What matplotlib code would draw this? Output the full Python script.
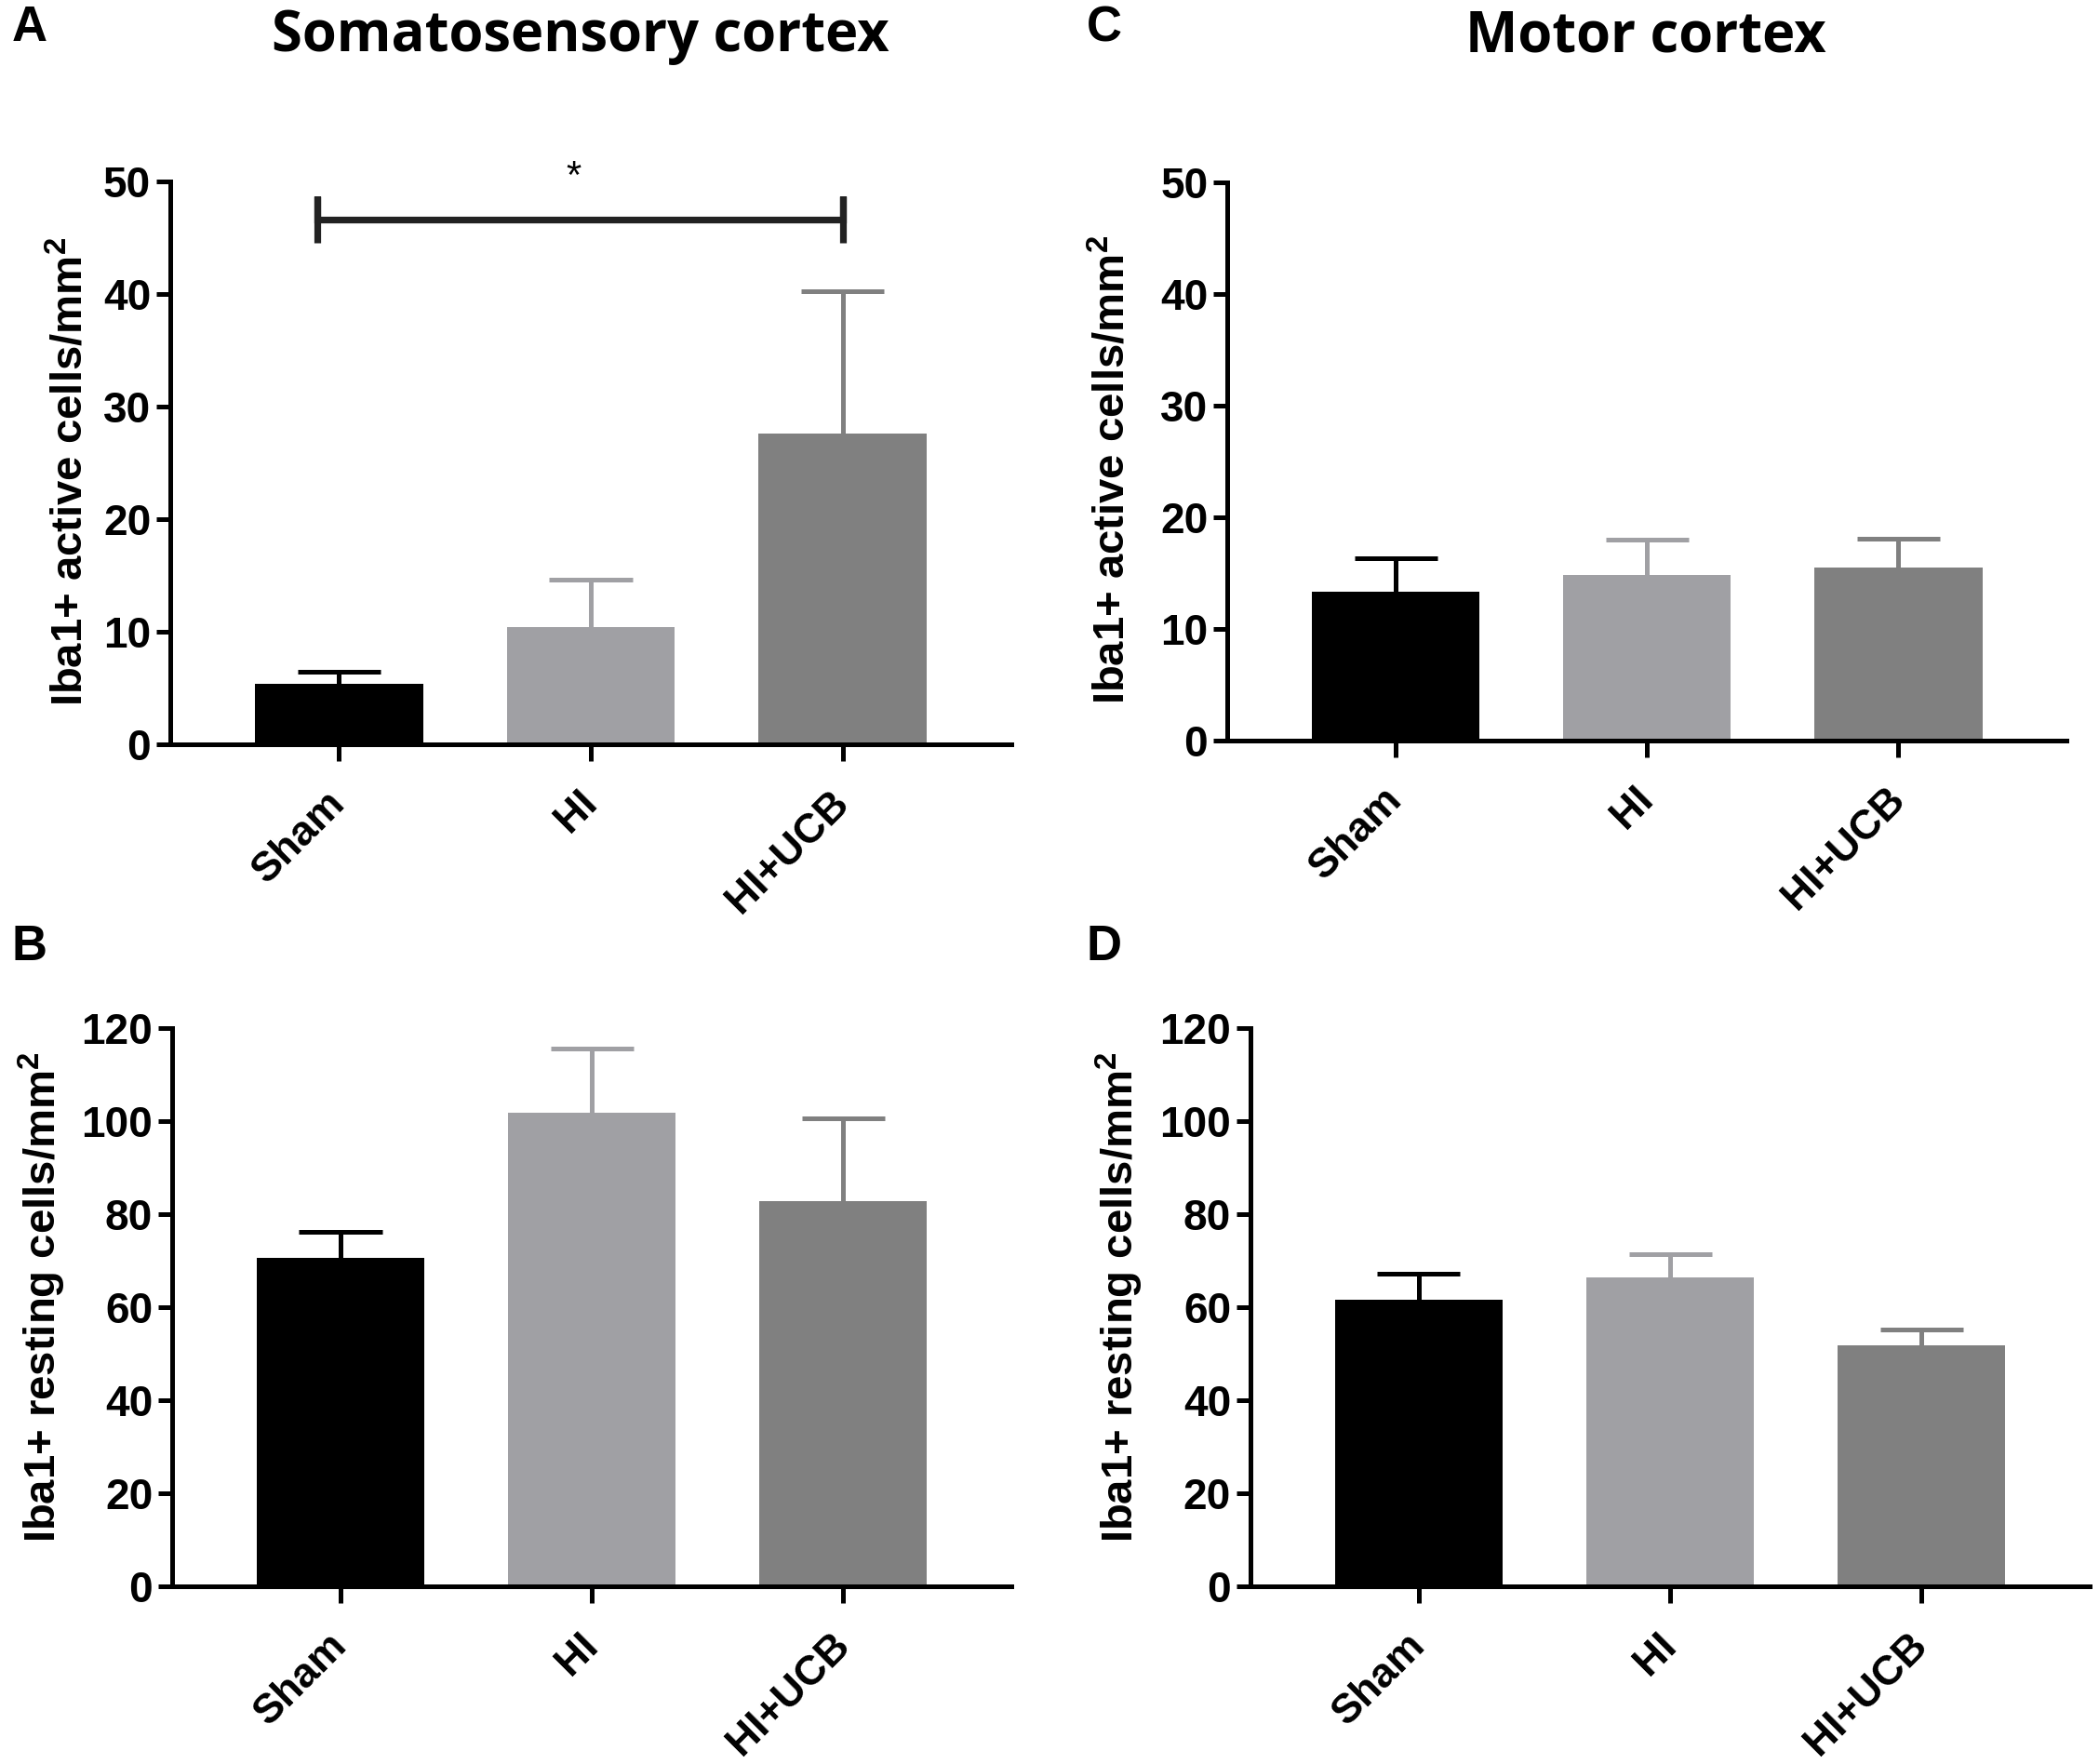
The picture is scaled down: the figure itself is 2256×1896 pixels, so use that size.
import matplotlib
matplotlib.use('Agg')
import matplotlib.pyplot as plt
import matplotlib.transforms as mtransforms

# Iba1+ microglia counts (mean and upper SEM)
categories = ['Sham', 'HI', 'HI+UCB']
bar_colors = ['#000000', '#a0a0a4', '#808080']

soma_active_mean = [5.35, 10.4, 27.6]
soma_active_err = [1.1, 4.2, 12.6]
motor_active_mean = [13.3, 14.8, 15.5]
motor_active_err = [3.0, 3.2, 2.6]
soma_resting_mean = [70.6, 101.8, 82.9]
soma_resting_err = [5.6, 13.8, 17.8]
motor_resting_mean = [61.7, 66.5, 51.8]
motor_resting_err = [5.5, 5.0, 3.4]

# significance bracket in panel A: Sham vs HI+UCB
sig_y = 46.6
sig_label = '*'

plt.rcParams['font.family'] = ['Liberation Sans', 'DejaVu Sans']
plt.rcParams['font.weight'] = 'bold'
plt.rcParams['mathtext.fontset'] = 'custom'
plt.rcParams['mathtext.bf'] = 'Liberation Sans:bold'
plt.rcParams['mathtext.rm'] = 'Liberation Sans:bold'

LW = 1.8
CAP = 0.165  # half width of error bar caps, in category units


def draw_panel(ax, means, errs, ymax, ystep, ylabel, label_x, label_y):
    x = list(range(len(categories)))
    ax.bar(x, means, width=0.667, color=bar_colors, zorder=2)
    # error bars only above the bar, Prism style
    for xi, m, e, c in zip(x, means, errs, bar_colors):
        ax.vlines(xi, m, m + e, colors=c, linewidth=LW, zorder=1)
        ax.hlines(m + e, xi - CAP, xi + CAP, colors=c, linewidth=LW, zorder=1)
    ax.set_xlim(-0.67, 2.67)
    ax.set_ylim(0, ymax)
    ax.set_yticks(range(0, ymax + 1, ystep))
    ax.set_xticks(x)
    ax.set_xticklabels(categories, rotation=45, ha='right', va='center',
                       rotation_mode='anchor', fontsize=16, fontweight='bold')
    offset = mtransforms.ScaledTranslation(-3 / 72, 0, ax.figure.dpi_scale_trans)
    for lab in ax.get_xticklabels():
        lab.set_transform(lab.get_transform() + offset)
    for side in ['top', 'right']:
        ax.spines[side].set_visible(False)
    for side in ['left', 'bottom']:
        ax.spines[side].set_linewidth(LW)
    ax.tick_params(axis='y', direction='out', length=5.5, width=LW,
                   labelsize=16.5, pad=2)
    ax.tick_params(axis='x', direction='out', length=6.5, width=LW, pad=14)
    for lab in ax.get_yticklabels():
        lab.set_fontweight('bold')
    ax.set_ylabel(ylabel, fontsize=17, fontweight='bold', va='center')
    ax.yaxis.set_label_coords(label_x, label_y)


fig = plt.figure(figsize=(11.28, 9.48), dpi=200)

ax_a = fig.add_axes([0.0811, 0.5781, 0.4007, 0.3191])
ax_c = fig.add_axes([0.5847, 0.5802, 0.4000, 0.3165])
ax_b = fig.add_axes([0.0820, 0.1007, 0.4000, 0.3165])
ax_d = fig.add_axes([0.5957, 0.1007, 0.4000, 0.3165])

active_label = r'Iba1+ active cells/mm$^{\mathbf{2}}$'
resting_label = r'Iba1+ resting cells/mm$^{\mathbf{2}}$'

draw_panel(ax_a, soma_active_mean, soma_active_err, 50, 10, active_label, -0.118, 0.485)
draw_panel(ax_c, motor_active_mean, motor_active_err, 50, 10, active_label, -0.136, 0.485)
draw_panel(ax_b, soma_resting_mean, soma_resting_err, 120, 20, resting_label, -0.155, 0.518)
draw_panel(ax_d, motor_resting_mean, motor_resting_err, 120, 20, resting_label, -0.156, 0.518)

# bracket
bx = [-0.085, -0.085, -0.085, 2.0, 2.0, 2.0]
by = [sig_y - 2.1, sig_y + 2.1, sig_y, sig_y, sig_y + 2.1, sig_y - 2.1]
ax_a.plot(bx, by, color='#222222', lw=2.6, clip_on=False,
          solid_capstyle='butt', solid_joinstyle='miter')
ax_a.text(0.93, 50.3, sig_label, ha='center', va='center', fontsize=15,
          fontweight='normal', clip_on=False)

# titles and panel letters
title_font = ['Open Sans', 'DejaVu Sans']
fig.text(0.2766, 0.979, 'Somatosensory cortex', ha='center', va='center',
         fontsize=21.5, fontweight='bold', family=title_font)
fig.text(0.784, 0.979, 'Motor cortex', ha='center', va='center',
         fontsize=21.5, fontweight='bold', family=title_font)

for letter, xx, yy in [('A', 0.0055, 0.984), ('C', 0.5175, 0.984),
                       ('B', 0.0055, 0.463), ('D', 0.5175, 0.463)]:
    fig.text(xx, yy, letter, ha='left', va='center', fontsize=19, fontweight='bold')

fig.savefig('out.png', dpi=200)
